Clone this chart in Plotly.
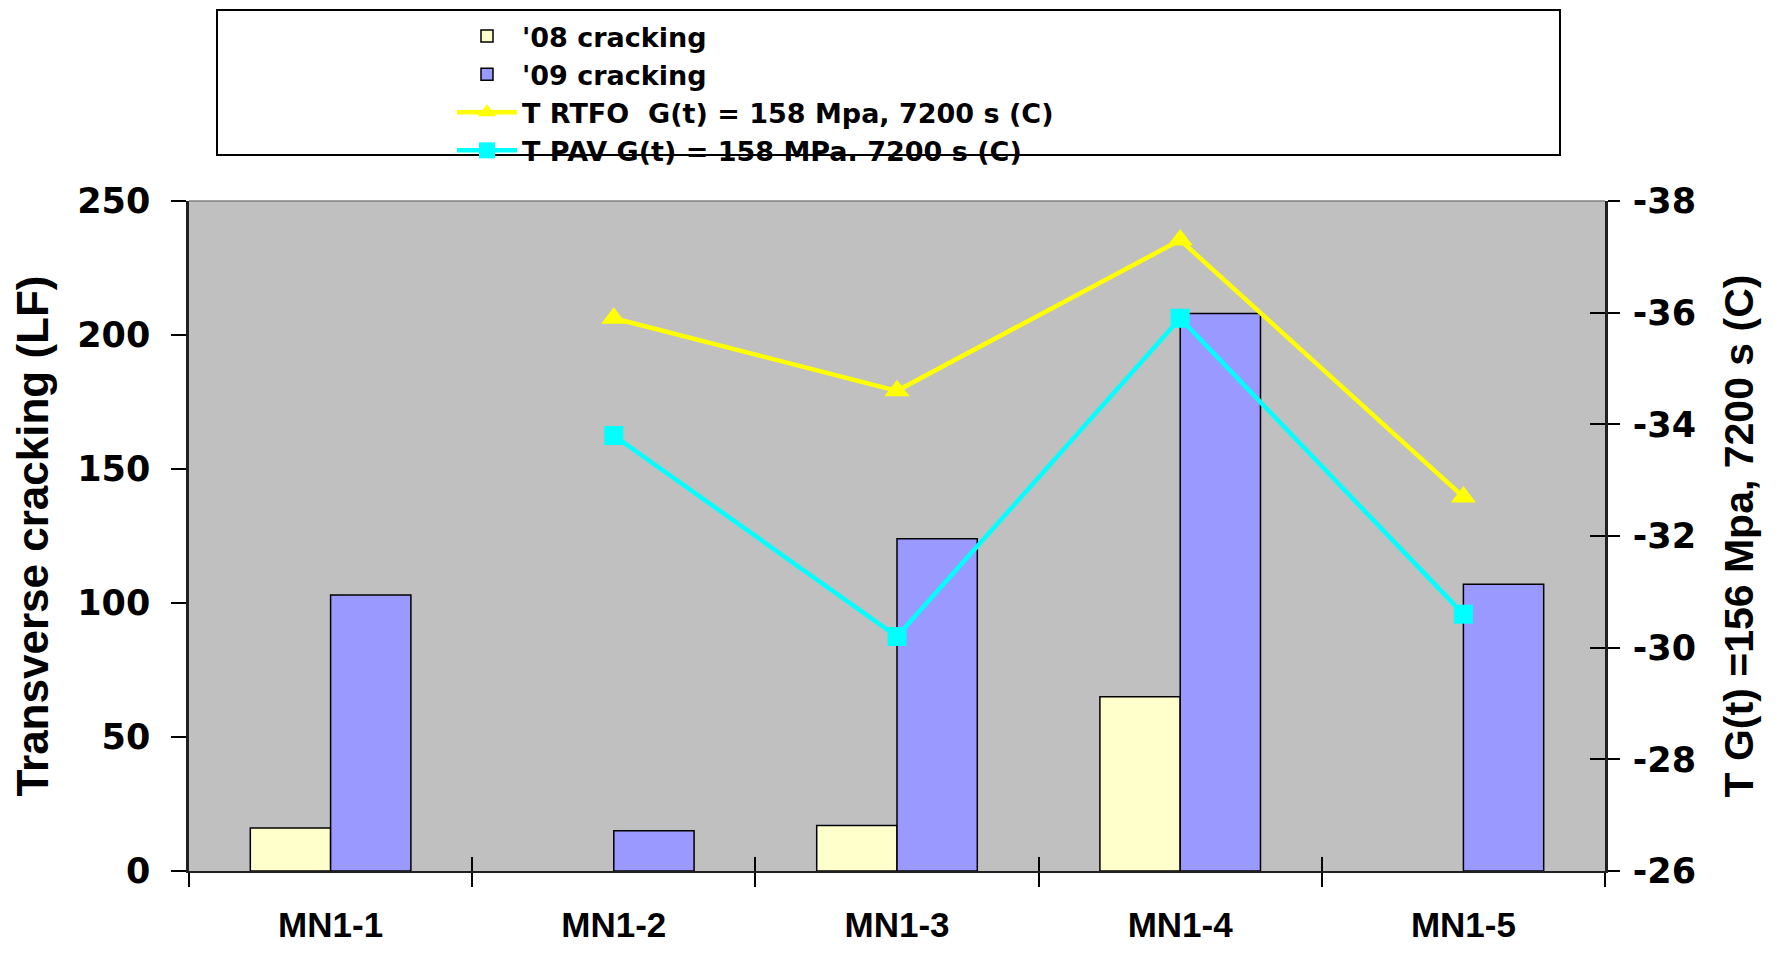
import plotly.graph_objects as go

# categories and values
sections = ["MN1-1", "MN1-2", "MN1-3", "MN1-4", "MN1-5"]
crack_08 = [16, None, 17, 65, None]
crack_09 = [103, 15, 124, 208, 107]
t_rtfo = [None, -35.9, -34.6, -37.3, -32.7]
t_pav = [None, -33.8, -30.2, -35.9, -30.6]

left_ticks = [0, 50, 100, 150, 200, 250]
right_ticks = [-26, -28, -30, -32, -34, -36, -38]

# the page body has an 8px margin, so the figure is drawn 8px in from the corner
OFF = 8
W, H = 1791 - 2 * OFF, 955 - 2 * OFF
L, T = 189 - OFF, 201 - OFF
R = W - (1605 - OFF)
B = H - (871 - OFF)
PW, PH = W - L - R, H - T - B


def px_x(x):
    return (x - OFF - L) / PW


def px_y(y):
    return (H - B - (y - OFF)) / PH


num_font = dict(family="DejaVu Sans", size=35, color="black", weight="bold")
cat_font = dict(family="Liberation Sans", size=35, color="black", weight="bold")

fig = go.Figure()

fig.add_trace(go.Bar(
    x=sections, y=crack_08, name="'08 cracking",
    marker=dict(color="#FFFFCC", line=dict(color="black", width=1.5)),
))
fig.add_trace(go.Bar(
    x=sections, y=crack_09, name="'09 cracking",
    marker=dict(color="#9999FF", line=dict(color="black", width=1.5)),
))
fig.add_trace(go.Scatter(
    x=sections, y=t_rtfo, name="T RTFO  G(t) = 158 Mpa, 7200 s (C)",
    mode="lines+markers", xaxis="x2", yaxis="y2",
    line=dict(color="#FFFF00", width=4.5),
    marker=dict(symbol="triangle-up", size=22, color="#FFFF00"),
))
fig.add_trace(go.Scatter(
    x=sections, y=t_pav, name="T PAV G(t) = 158 MPa. 7200 s (C)",
    mode="lines+markers", xaxis="x2", yaxis="y3",
    line=dict(color="#00FFFF", width=4.5),
    marker=dict(symbol="square", size=19, color="#00FFFF"),
))

fig.update_layout(
    width=W, height=H,
    margin=dict(l=L, r=R, t=T, b=B, autoexpand=False),
    paper_bgcolor="white",
    plot_bgcolor="#C0C0C0",
    font=dict(family="Liberation Sans", color="black"),
    barmode="group",
    bargap=0.433,
    bargroupgap=0,
    showlegend=True,
    legend=dict(
        x=px_x(452), xanchor="left",
        y=px_y(12), yanchor="top",
        bgcolor="rgba(0,0,0,0)", borderwidth=0,
        font=dict(family="DejaVu Sans", size=27, color="black", weight="bold"),
        itemwidth=60, tracegroupgap=0,
    ),
    xaxis=dict(
        type="category", range=[-0.5, 4.5],
        tickson="boundaries", ticks="outside", ticklen=14, tickwidth=1.5, tickcolor="black",
        showline=True, linecolor="#202020", linewidth=2,
        tickfont=cat_font, ticklabelstandoff=22,
        showgrid=False, zeroline=False,
    ),
    xaxis2=dict(
        type="category", range=[-0.5, 4.5], overlaying="x", anchor="y", side="bottom",
        tickson="boundaries", ticks="inside", ticklen=14, tickwidth=1.5, tickcolor="black",
        showticklabels=False, showline=False, showgrid=False, zeroline=False,
    ),
    yaxis=dict(
        range=[0, 250], tickvals=left_ticks, ticktext=[str(v) for v in left_ticks],
        ticks="outside", ticklen=15, tickwidth=1.5, tickcolor="black",
        showline=True, linecolor="#202020", linewidth=2.5,
        tickfont=num_font, ticklabelstandoff=14, showgrid=False, zeroline=False,
        title=dict(text="Transverse cracking (LF)", standoff=26,
                   font=dict(family="Liberation Sans", size=44, color="black", weight="bold")),
    ),
    yaxis2=dict(
        range=[-26, -38], tickvals=right_ticks, ticktext=[str(v) for v in right_ticks],
        overlaying="y", side="right", anchor="x",
        ticks="outside", ticklen=12, tickwidth=1.5, tickcolor="black",
        showline=True, linecolor="#202020", linewidth=2.5,
        tickfont=num_font, ticklabelstandoff=6, showgrid=False, zeroline=False,
        title=dict(text="T G(t) =156 Mpa, 7200 s (C)", standoff=30,
                   font=dict(family="Liberation Sans", size=41, color="black", weight="bold")),
    ),
    yaxis3=dict(
        range=[-26, -38], tickvals=right_ticks, overlaying="y", side="right", anchor="x",
        ticks="inside", ticklen=15, tickwidth=1.5, tickcolor="black",
        showticklabels=False, showline=False, showgrid=False, zeroline=False,
    ),
    shapes=[
        # legend frame
        dict(type="rect", xref="paper", yref="paper",
             x0=px_x(217), x1=px_x(1560), y0=px_y(155), y1=px_y(10),
             line=dict(color="black", width=2), fillcolor="rgba(0,0,0,0)", layer="above"),
        # thin grey top edge of the plot area
        dict(type="line", xref="paper", yref="paper", x0=0, x1=1, y0=1, y1=1,
             line=dict(color="#808080", width=1.5), layer="above"),
    ],
)

fig.write_html("out.html")
